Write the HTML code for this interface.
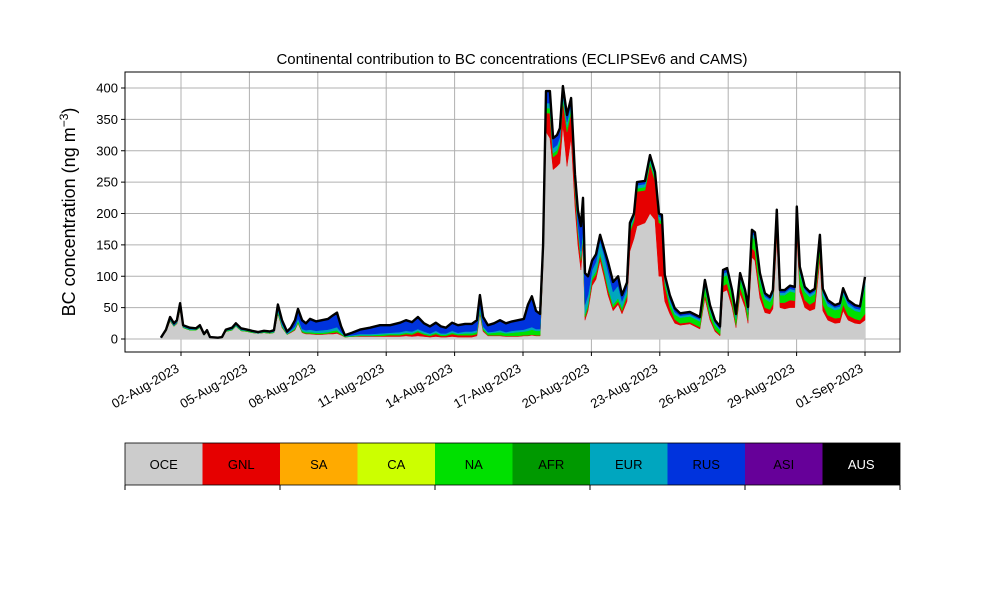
<!DOCTYPE html>
<html><head><meta charset="utf-8"><style>
body{margin:0;background:#fff;}
svg text{font-family:"Liberation Sans",sans-serif;}
</style></head><body>
<svg id="chart" width="1000" height="600" xmlns="http://www.w3.org/2000/svg">
<rect x="0" y="0" width="1000" height="600" fill="#fff"/>
<text x="512" y="64" font-size="15" text-anchor="middle">Continental contribution to BC concentrations (ECLIPSEv6 and CAMS)</text>
<text transform="translate(75,212) rotate(-90)" font-size="18" text-anchor="middle">BC concentration (ng m<tspan baseline-shift="super" font-size="12">−3</tspan>)</text>
<g id="grid"></g>
<g id="areas"></g>
<g id="axes"></g>
<g id="legend"></g>
</svg>
<script>
const times=[0.12,0.34,0.52,0.69,0.82,0.96,1.09,1.39,1.66,1.83,2.01,2.14,2.27,2.62,2.80,2.97,3.24,3.41,3.63,3.89,4.11,4.38,4.64,4.90,5.08,
5.25,5.43,5.65,5.82,6.00,6.13,6.31,6.48,6.66,6.92,7.18,7.45,7.67,7.84,8.02,8.19,8.50,8.85,9.29,9.73,10.17,10.61,10.87,11.13,11.39,11.66,11.92,12.18,12.40,12.62,12.89,13.15,13.46,13.76,13.98,14.11,14.25,14.46,14.73,14.99,15.25,15.52,15.78,16.04,16.22,16.39,16.57,16.75,
16.88,17.01,17.18,17.32,17.49,17.62,17.75,17.93,18.11,18.28,18.41,18.54,18.63,18.72,18.85,19.03,19.20,19.38,19.55,19.73,19.95,20.17,20.34,20.56,
20.69,20.87,21.00,21.35,21.57,21.79,21.96,22.09,22.22,22.44,22.66,
22.89,23.32,23.76,23.98,24.20,24.42,24.64,24.77,24.95,25.17,25.34,25.52,25.74,25.87,26.04,26.17,26.39,26.61,26.83,26.96,27.13,27.27,27.48,27.71,27.92,28.01,28.14,28.36,28.58,28.80,29.02,29.15,29.37,29.68,29.90,30.04,30.26,30.56,30.78,31.00];
const oce=[2,12,28,20,24,46,18,14,14,18,6,11,3,2,3,12,14,20,13,12,10,9,10,9,10,
40,18,7,10,14,25,10,8,8,7,7,8,8,9,6,3,4,4,4,4,4,4,5,4,5,4,3,4,3,3,4,3,3,3,5,40,12,5,5,5,4,4,4,5,5,6,5,5,
120,330,320,270,275,280,340,275,320,210,150,110,150,30,45,85,95,125,100,70,45,55,40,60,
140,160,180,185,200,190,100,100,60,40,25,
22,24,16,65,30,12,5,75,78,50,18,72,50,25,130,125,65,42,40,48,160,50,48,50,50,165,75,50,45,48,125,45,30,25,26,45,30,25,24,30];
const gnl=[0,0,1,0,1,1,0,0,0,0,0,0,0,0,0,0,0,0,0,0,0,0,0,0,0,
1,1,0,1,1,1,1,1,1,1,1,1,2,2,1,0,0,1,1,1,2,2,3,3,6,3,2,4,2,2,4,3,3,3,3,3,2,1,1,1,1,1,1,1,1,1,1,1,
5,30,40,20,20,30,38,55,40,25,20,15,10,5,5,8,8,8,8,8,5,5,5,8,
30,28,55,52,78,62,85,83,25,10,6,
3,3,3,6,5,3,2,10,10,8,4,10,8,5,15,15,12,8,7,8,15,8,10,12,11,15,12,12,10,12,12,10,8,8,8,10,8,7,6,10];
const na=[0,1,1,1,1,2,1,1,1,1,0,1,0,0,0,1,1,1,1,1,1,0,1,1,1,
3,2,1,1,2,3,2,2,2,2,2,2,3,3,2,1,1,1,1,2,2,2,2,2,2,2,2,2,2,2,2,2,3,3,3,5,3,3,4,5,4,5,6,6,7,8,7,7,
5,8,8,6,6,6,6,8,6,7,6,5,5,5,5,5,5,5,5,5,5,5,5,5,
5,4,5,5,5,5,5,5,7,8,8,
9,9,9,12,10,8,7,14,14,12,10,14,12,12,18,18,17,14,12,12,18,12,12,14,13,18,17,13,12,12,18,15,14,13,14,16,14,13,13,45];
const eur=[0,1,2,1,1,3,1,1,1,1,1,1,0,0,0,1,1,2,1,1,1,1,1,1,1,
3,3,1,2,3,4,3,3,4,3,4,4,4,5,2,1,1,2,2,2,2,3,3,3,3,3,2,3,2,2,3,2,3,3,3,4,3,2,2,3,2,3,3,3,4,4,3,3,
5,8,8,8,8,6,6,8,8,10,9,10,10,15,15,12,15,18,22,25,20,20,10,8,
4,4,5,5,5,4,5,5,5,5,4,
3,3,3,5,4,3,2,5,5,4,4,5,4,4,5,6,5,4,4,5,6,4,4,4,4,6,5,4,4,4,5,5,5,4,4,5,5,4,4,6];
const rus=[0,1,3,3,3,5,2,2,1,2,1,1,0,0,0,1,2,2,2,1,1,1,1,1,2,
8,6,3,4,10,15,14,11,17,15,16,17,21,23,9,1,4,7,10,13,12,15,17,15,19,13,11,13,11,9,13,12,12,12,16,18,15,11,13,16,14,15,16,17,38,49,29,24,
15,19,19,16,16,14,13,11,10,10,20,40,50,50,30,15,12,10,10,15,16,15,10,9,
6,4,5,5,5,5,5,5,5,7,6,
4,4,4,6,5,4,4,6,6,4,4,4,4,5,6,6,6,5,4,5,7,4,4,5,5,7,6,4,4,4,6,5,5,4,5,5,5,5,5,8];
const yTicks=[0,50,100,150,200,250,300,350,400];
const xTickDays=[1,4,7,10,13,16,19,22,25,28,31];
const xTickLabels=["02-Aug-2023","05-Aug-2023","08-Aug-2023","11-Aug-2023","14-Aug-2023","17-Aug-2023","20-Aug-2023","23-Aug-2023","26-Aug-2023","29-Aug-2023","01-Sep-2023"];
const legendNames=["OCE","GNL","SA","CA","NA","AFR","EUR","RUS","ASI","AUS"];
const legendColors=["#cccccc","#e60000","#ffaa00","#ccff00","#00e000","#009900","#00a6bf","#0033dd","#660099","#000000"];

const NS="http://www.w3.org/2000/svg";
const X0=125,X1=900,Y0=72,Y1=352;
function xs(t){return 158.2+22.8*t;}
function ys(v){return 339-v*0.6275;}
function mk(tag,attrs,parent){const e=document.createElementNS(NS,tag);for(const k in attrs)e.setAttribute(k,attrs[k]);parent.appendChild(e);return e;}
const grid=document.getElementById('grid'),areas=document.getElementById('areas'),axes=document.getElementById('axes'),legend=document.getElementById('legend');
yTicks.forEach(v=>{
  const l=mk('line',{x1:X0,x2:X1,y1:ys(v),y2:ys(v),stroke:'#b0b0b0','stroke-width':1},grid);
  
  
  const tk=mk('line',{x1:X0-4,x2:X0,y1:ys(v),y2:ys(v),stroke:'#000'},axes);
  
  
  const tx=mk('text',{x:X0-7,y:ys(v)+4.5,'font-size':13,'text-anchor':'end'},axes);
  tx.textContent=v;
  
  
});
xTickDays.forEach((d,i)=>{
  const x=xs(d);
  const l=mk('line',{x1:x,x2:x,y1:Y0,y2:Y1,stroke:'#b0b0b0','stroke-width':1},grid);
  
  
  const tk=mk('line',{x1:x,x2:x,y1:Y1,y2:Y1+4,stroke:'#000'},axes);
  
  
  const tx=mk('text',{x:0,y:0,'font-size':13,'text-anchor':'end',transform:`translate(${x-1},${Y1+19}) rotate(-30)`},axes);
  tx.textContent=xTickLabels[i];
  
  
});
const series=[[oce,'#cccccc','oce-area'],[gnl,'#e60000','gnl-area'],[na,'#00e000','na-area'],[eur,'#00a6bf','eur-area'],[rus,'#0033dd','rus-area']];
let base=times.map(()=>0);
series.forEach(([arr,col,name])=>{
  const top=base.map((b,i)=>b+arr[i]);
  let d='M'+times.map((t,i)=>xs(t).toFixed(1)+','+ys(top[i]).toFixed(1)).join('L');
  for(let i=times.length-1;i>=0;i--)d+='L'+xs(times[i]).toFixed(1)+','+ys(base[i]).toFixed(1);
  const p=mk('path',{d:d+'Z',fill:col,stroke:col,'stroke-width':0.5},areas);
  
  
  base=top;
});
const tl=mk('path',{d:'M'+times.map((t,i)=>xs(t).toFixed(1)+','+ys(base[i]).toFixed(1)).join('L'),fill:'none',stroke:'#000','stroke-width':2.4,'stroke-linejoin':'round'},areas);


const fr=mk('rect',{x:X0,y:Y0,width:X1-X0,height:Y1-Y0,fill:'none',stroke:'#000','stroke-width':1},axes);


const bw=(X1-X0)/legendNames.length;
legendNames.forEach((n,i)=>{
  const r=mk('rect',{x:X0+i*bw,y:443,width:bw,height:42,fill:legendColors[i]},legend);
  
  
  const t=mk('text',{x:X0+i*bw+bw/2,y:469,'font-size':13,'text-anchor':'middle',fill:n==='AUS'?'#fff':'#000'},legend);
  t.textContent=n;
  
  
});
const lf=mk('rect',{x:X0,y:443,width:X1-X0,height:42,fill:'none',stroke:'#000','stroke-width':0.8},legend);


for(let i=0;i<=10;i+=2){
  const tk=mk('line',{x1:X0+i*bw,x2:X0+i*bw,y1:485,y2:490,stroke:'#000'},legend);
  
  
}
</script>
</body></html>
